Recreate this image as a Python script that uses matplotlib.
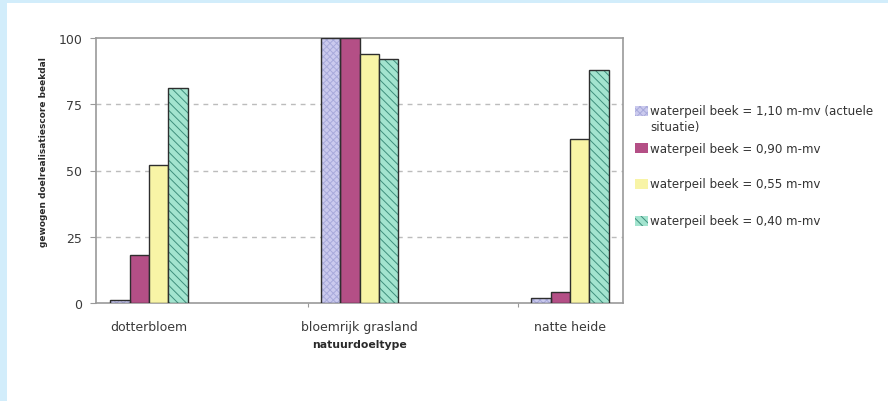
import matplotlib.pyplot as plt
from matplotlib.patches import Rectangle
import numpy as np

plt.rcParams['font.family'] = ['DejaVu Sans']
plt.rcParams['hatch.linewidth'] = 0.7

categories = ['dotterbloem', 'bloemrijk grasland', 'natte heide']
labels = ['waterpeil beek = 1,10 m-mv (actuele\nsituatie)',
          'waterpeil beek = 0,90 m-mv',
          'waterpeil beek = 0,55 m-mv',
          'waterpeil beek = 0,40 m-mv']
peil_110 = [1, 100, 2]
peil_090 = [18, 100, 4]
peil_055 = [52, 94, 62]
peil_040 = [81, 92, 88]
series = [peil_110, peil_090, peil_055, peil_040]

# fill colour, hatch pattern, hatch colour
styles = [('#cbcaee', 'xxxxx', '#a8aadb'),
          ('#b44f86', None, None),
          ('#f8f4a6', None, None),
          ('#a3e4cf', '\\\\\\\\', '#3f8f7c')]
edge = '#2e2e2e'

fig = plt.figure(figsize=(8.88, 4.02), dpi=100)
fig.patch.set_facecolor('white')
# light blue strips along the top and left edge
fig.patches.append(Rectangle((0, 0), 7 / 888, 1, transform=fig.transFigure,
                             facecolor='#d2edfb', edgecolor='none', zorder=0))
fig.patches.append(Rectangle((0, 1 - 4 / 402), 1, 4 / 402, transform=fig.transFigure,
                             facecolor='#d2edfb', edgecolor='none', zorder=0))

ax = fig.add_axes([96 / 888, 98 / 402, 527 / 888, 265 / 402])

x = np.arange(len(categories))
w = 0.0926
for i, (vals, (fc, hatch, hc)) in enumerate(zip(series, styles)):
    pos = x + (i - 1.5) * w
    if hatch:
        ax.bar(pos, vals, w, color=fc, hatch=hatch, edgecolor=hc, linewidth=0, zorder=3)
        ax.bar(pos, vals, w, fill=False, edgecolor=edge, linewidth=1.0, zorder=4)
    else:
        ax.bar(pos, vals, w, color=fc, edgecolor=edge, linewidth=1.0, zorder=3)

ax.set_xlim(-0.2518, 2.2518)
ax.set_ylim(0, 100)
ax.set_yticks([0, 25, 50, 75, 100])
ax.set_xticks(x)
ax.set_xticklabels(categories)
ax.set_xticks([0.755, 1.755], minor=True)
ax.tick_params(axis='x', which='major', length=0, pad=12, labelsize=9, labelcolor='#3a3a3a')
ax.tick_params(axis='x', which='minor', length=3, color='#999999', width=0.8)
ax.tick_params(axis='y', length=4, color='#999999', width=0.8, pad=6,
               labelsize=9, labelcolor='#3a3a3a')

for y in [25, 50, 75]:
    ax.axhline(y, color='#bcbcbc', linewidth=1, dashes=(3.5, 3.5), zorder=1)

for s in ax.spines.values():
    s.set_color('#9a9a9a')
    s.set_linewidth(1.2)

ax.set_ylabel('gewogen doelrealisatiescore beekdal', fontsize=6.5,
              fontweight='bold', color='#2a2a2a')
ax.yaxis.set_label_coords(-0.091, 0.574)
ax.set_xlabel('natuurdoeltype', fontsize=7.8, fontweight='bold', color='#2a2a2a')
ax.xaxis.set_label_coords(0.5, -0.136)

# legend drawn on the figure, patch next to the first text line
entry_y = [112, 149, 185, 222]
for lab, (fc, hatch, hc), yy in zip(labels, styles, entry_y):
    y0 = 1 - (yy + 5) / 402
    if hatch:
        fig.patches.append(Rectangle((635 / 888, y0), 13 / 888, 10 / 402,
                                     transform=fig.transFigure, facecolor=fc,
                                     hatch=hatch, edgecolor=hc, linewidth=0))
    else:
        fig.patches.append(Rectangle((635 / 888, y0), 13 / 888, 10 / 402,
                                     transform=fig.transFigure, facecolor=fc,
                                     edgecolor='none'))
    fig.text(650 / 888, 1 - (yy - 6.5) / 402, lab, fontsize=8.6, color='#333333',
             va='top', ha='left', linespacing=1.3)

fig.savefig('out.png', dpi=100)
